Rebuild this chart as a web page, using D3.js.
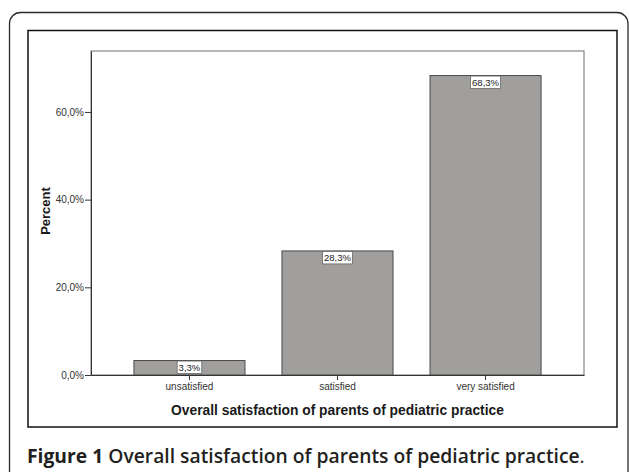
<!DOCTYPE html>
<html><head><meta charset="utf-8">
<script src="https://cdn.jsdelivr.net/npm/d3@7"></script>
<style>
html,body{margin:0;padding:0;background:#fff;}
svg{display:block;}
</style></head>
<body>
<svg id="chart" width="629" height="472"></svg>
<script>
const categories = ["unsatisfied", "satisfied", "very satisfied"];
const percents = [3.3, 28.3, 68.3];
const yTicks = [0, 20, 40, 60];
const yTitle = "Percent";
const xTitle = "Overall satisfaction of parents of pediatric practice";
const captionBold = "Figure 1";
const captionText = "Overall satisfaction of parents of pediatric practice";

const svg = d3.select("#chart");
const fmt = v => v.toFixed(1).replace(".", ",") + "%";
const FONT = "Liberation Sans, Arial, sans-serif";

// outer rounded frame
svg.append("rect").attr("x", 9.5).attr("y", 12.5).attr("width", 618.5).attr("height", 500)
  .attr("rx", 11).attr("fill", "none").attr("stroke", "#2a2a2a").attr("stroke-width", 1.3);

// chart box
svg.append("rect").attr("x", 28).attr("y", 30.5).attr("width", 589).attr("height", 396.5)
  .attr("fill", "none").attr("stroke", "#111").attr("stroke-width", 1.5);

const plot = {l: 91, r: 584, t: 51, b: 375};
const x = d3.scaleBand().domain(categories).range([plot.l, plot.r]).paddingInner(0.25).paddingOuter(0.29);
const y = d3.scaleLinear().domain([0, 73.9]).range([plot.b, plot.t]);

// plot frame
svg.append("rect").attr("x", plot.l).attr("y", plot.t).attr("width", plot.r - plot.l).attr("height", plot.b - plot.t)
  .attr("fill", "#fff").attr("stroke", "#6e6e6e").attr("stroke-width", 1);

// bars
svg.append("g").selectAll("rect").data(percents).join("rect")
  .attr("x", (d, i) => x(categories[i]))
  .attr("y", d => y(d))
  .attr("width", x.bandwidth())
  .attr("height", d => y(0) - y(d))
  .attr("fill", "#a09f9d").attr("stroke", "#4a4a4a").attr("stroke-width", 1);

// y axis
const yAxis = d3.axisLeft(y).tickValues(yTicks).tickFormat(fmt).tickSize(6).tickSizeOuter(0);
const gy = svg.append("g").attr("transform", `translate(${plot.l},0)`).call(yAxis);
gy.select(".domain").attr("stroke", "#333");
gy.selectAll(".tick line").attr("stroke", "#333");
gy.selectAll(".tick text").attr("font-family", FONT).attr("font-size", 10)
  .attr("fill", "#333").attr("x", -7);

// x axis
const xAxis = d3.axisBottom(x).tickSize(5).tickSizeOuter(0);
const gx = svg.append("g").attr("transform", `translate(0,${plot.b})`).call(xAxis);
gx.select(".domain").attr("stroke", "#333");
gx.selectAll(".tick line").attr("stroke", "#333");
gx.selectAll(".tick text").attr("font-family", FONT).attr("font-size", 10)
  .attr("fill", "#333").attr("y", 8);

// value labels
const labels = svg.append("g").selectAll("g").data(percents).join("g")
  .attr("transform", (d, i) => `translate(${x(categories[i]) + x.bandwidth() / 2},${y(d)})`);
labels.each(function(d) {
  const g = d3.select(this);
  const t = g.append("text").text(fmt(d)).attr("text-anchor", "middle").attr("y", 10.5)
    .attr("font-family", FONT).attr("font-size", 9.5).attr("fill", "#222");
  const w = t.node().getComputedTextLength();
  g.insert("rect", "text").attr("x", -w / 2 - 1.5).attr("y", 0.5).attr("width", w + 3).attr("height", 12.5)
    .attr("fill", "#fff").attr("stroke", "#666").attr("stroke-width", 0.8);
});

// axis titles
svg.append("text").attr("x", (plot.l + plot.r) / 2).attr("y", 415).attr("text-anchor", "middle")
  .attr("font-family", FONT).attr("font-size", 13.8).attr("font-weight", "bold")
  .attr("fill", "#1a1a1a").text(xTitle);
svg.append("text").attr("transform", "translate(50,211) rotate(-90)").attr("text-anchor", "middle")
  .attr("font-family", FONT).attr("font-size", 13).attr("font-weight", "bold")
  .attr("fill", "#1a1a1a").text(yTitle);

// caption
const cap = svg.append("text").attr("x", 27).attr("y", 463)
  .attr("font-family", "Open Sans, Lato, sans-serif").attr("font-size", 19.3).attr("fill", "#231f20");
cap.append("tspan").attr("font-weight", 700).text(captionBold + " ");
cap.append("tspan").attr("font-weight", 600).text(captionText);
cap.append("tspan").attr("font-weight", 400).text(".");
</script>
</body></html>
